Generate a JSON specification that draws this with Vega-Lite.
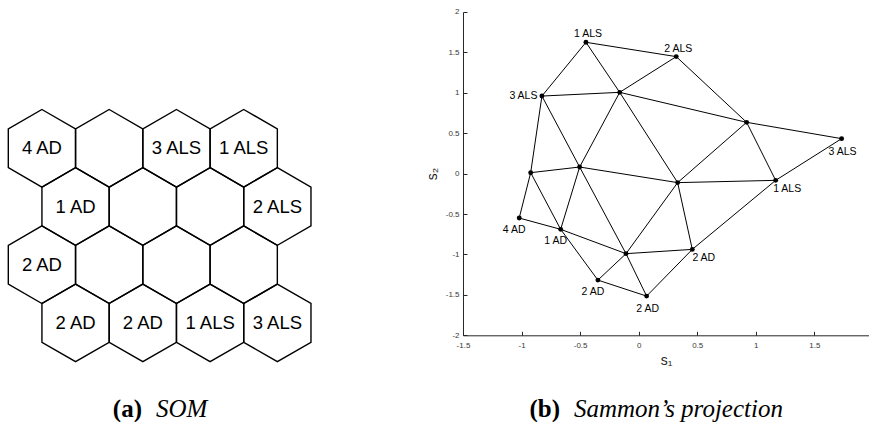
{
  "$schema": "https://vega.github.io/schema/vega-lite/v6.json",
  "background": "white",
  "padding": {"left": 0, "top": 8, "right": 0, "bottom": 0},
  "bounds": "flush",
  "spacing": 152,
  "config": {
    "view": {"stroke": null},
    "axis": {
      "grid": false,
      "labelFont": "Liberation Sans",
      "labelFontSize": 8,
      "labelColor": "#3a3a3a",
      "titleFont": "Liberation Sans",
      "titleFontSize": 14,
      "titleFontWeight": "normal",
      "titleColor": "#262626",
      "domainColor": "#262626",
      "tickColor": "#262626",
      "domainWidth": 1,
      "tickWidth": 1,
      "tickSize": -4,
      "labelFlush": false,
      "labelOverlap": false
    }
  },
  "datasets": {
    "hexes": [
      {"x": 0, "row": 1, "label": "4 AD"},
      {"x": 1, "row": 1, "label": ""},
      {"x": 2, "row": 1, "label": "3 ALS"},
      {"x": 3, "row": 1, "label": "1 ALS"},
      {"x": 0.5, "row": 2, "label": "1 AD"},
      {"x": 1.5, "row": 2, "label": ""},
      {"x": 2.5, "row": 2, "label": ""},
      {"x": 3.5, "row": 2, "label": "2 ALS"},
      {"x": 0, "row": 3, "label": "2 AD"},
      {"x": 1, "row": 3, "label": ""},
      {"x": 2, "row": 3, "label": ""},
      {"x": 3, "row": 3, "label": ""},
      {"x": 0.5, "row": 4, "label": "2 AD"},
      {"x": 1.5, "row": 4, "label": "2 AD"},
      {"x": 2.5, "row": 4, "label": "1 ALS"},
      {"x": 3.5, "row": 4, "label": "3 ALS"}
    ],
    "nodes": [
      {"id": "A", "label": "1 ALS", "x": -0.45, "y": 1.625},
      {"id": "B", "label": "2 ALS", "x": 0.321, "y": 1.448},
      {"id": "C", "label": "3 ALS", "x": -0.826, "y": 0.96},
      {"id": "D", "label": "", "x": -0.162, "y": 1.006},
      {"id": "E", "label": "", "x": 0.922, "y": 0.635},
      {"id": "F", "label": "3 ALS", "x": 1.733, "y": 0.433},
      {"id": "G", "label": "", "x": -0.922, "y": 0.012},
      {"id": "H", "label": "", "x": -0.504, "y": 0.082},
      {"id": "I", "label": "", "x": 0.333, "y": -0.111},
      {"id": "J", "label": "1 ALS", "x": 1.17, "y": -0.083},
      {"id": "K", "label": "4 AD", "x": -1.02, "y": -0.549},
      {"id": "L", "label": "1 AD", "x": -0.666, "y": -0.689},
      {"id": "M", "label": "", "x": -0.108, "y": -0.99},
      {"id": "N", "label": "2 AD", "x": 0.458, "y": -0.937},
      {"id": "O", "label": "2 AD", "x": -0.348, "y": -1.317},
      {"id": "P", "label": "2 AD", "x": 0.068, "y": -1.515}
    ],
    "edges": [
      {"s": "A", "t": "B"}, {"s": "A", "t": "C"}, {"s": "A", "t": "D"},
      {"s": "B", "t": "D"}, {"s": "B", "t": "E"}, {"s": "C", "t": "D"},
      {"s": "C", "t": "G"}, {"s": "C", "t": "H"}, {"s": "D", "t": "H"},
      {"s": "D", "t": "I"}, {"s": "D", "t": "E"}, {"s": "E", "t": "F"},
      {"s": "E", "t": "I"}, {"s": "E", "t": "J"}, {"s": "F", "t": "J"},
      {"s": "G", "t": "H"}, {"s": "H", "t": "I"}, {"s": "I", "t": "J"},
      {"s": "G", "t": "K"}, {"s": "G", "t": "L"}, {"s": "H", "t": "L"},
      {"s": "H", "t": "M"}, {"s": "K", "t": "L"}, {"s": "L", "t": "M"},
      {"s": "L", "t": "O"}, {"s": "M", "t": "O"}, {"s": "M", "t": "P"},
      {"s": "M", "t": "N"}, {"s": "M", "t": "I"}, {"s": "I", "t": "N"},
      {"s": "N", "t": "J"}, {"s": "N", "t": "P"}, {"s": "O", "t": "P"}
    ],
    "captionA": [{"part": "(a)", "name": "SOM"}],
    "captionB": [{"part": "(b)", "name": "Sammon’s projection"}]
  },
  "hconcat": [
    {
      "width": 311,
      "height": 323.3,
      "layer": [
        {
          "data": {"name": "hexes"},
          "mark": {
            "type": "point",
            "shape": "M0,-1L0.866,-0.5L0.866,0.5L0,1L-0.866,0.5L-0.866,-0.5Z",
            "size": 6025,
            "filled": false,
            "stroke": "black",
            "strokeWidth": 1.4,
            "opacity": 1
          },
          "encoding": {
            "x": {"field": "x", "type": "quantitative", "scale": {"domain": [-0.623, 4.0], "zero": false, "nice": false}, "axis": null},
            "y": {"field": "row", "type": "quantitative", "scale": {"domain": [-1.342, 4.213], "zero": false, "nice": false, "reverse": true}, "axis": null}
          }
        },
        {
          "data": {"name": "hexes"},
          "mark": {"type": "text", "font": "Liberation Sans", "fontSize": 18.5, "color": "black", "baseline": "middle"},
          "encoding": {
            "x": {"field": "x", "type": "quantitative"},
            "y": {"field": "row", "type": "quantitative"},
            "text": {"field": "label", "type": "nominal"}
          }
        },
        {
          "data": {"name": "captionA"},
          "mark": {"type": "text", "font": "Liberation Serif", "fontSize": 25, "fontWeight": "bold", "color": "black", "align": "right", "baseline": "alphabetic", "dx": -7},
          "encoding": {
            "x": {"datum": 1.592, "type": "quantitative"},
            "y": {"datum": 5.617, "type": "quantitative"},
            "text": {"field": "part", "type": "nominal"}
          }
        },
        {
          "data": {"name": "captionA"},
          "mark": {"type": "text", "font": "Liberation Serif", "fontSize": 25, "fontStyle": "italic", "color": "black", "align": "left", "baseline": "alphabetic", "dx": 7},
          "encoding": {
            "x": {"datum": 1.592, "type": "quantitative"},
            "y": {"datum": 5.617, "type": "quantitative"},
            "text": {"field": "name", "type": "nominal"}
          }
        }
      ]
    },
    {
      "width": 406,
      "height": 323.3,
      "layer": [
        {
          "data": {"name": "edges"},
          "transform": [
            {"lookup": "s", "from": {"data": {"name": "nodes"}, "key": "id", "fields": ["x", "y"]}},
            {"lookup": "t", "from": {"data": {"name": "nodes"}, "key": "id", "fields": ["x", "y"]}, "as": ["x2", "y2"]}
          ],
          "mark": {"type": "rule", "color": "black", "strokeWidth": 1},
          "encoding": {
            "x": {
              "field": "x", "type": "quantitative",
              "scale": {"domain": [-1.5, 1.967], "zero": false, "nice": false},
              "axis": {
                "title": "s₁",
                "values": [-1.5, -1, -0.5, 0, 0.5, 1, 1.5],
                "labelPadding": 10,
                "titlePadding": 4,
                "labelExpr": "replace(format(datum.value, '~g'), '−', '-')"
              }
            },
            "y": {
              "field": "y", "type": "quantitative",
              "scale": {"domain": [-2, 2], "zero": false, "nice": false},
              "axis": {
                "title": "s₂",
                "values": [-2, -1.5, -1, -0.5, 0, 0.5, 1, 1.5, 2],
                "labelPadding": 8,
                "titlePadding": 6,
                "labelExpr": "replace(format(datum.value, '~g'), '−', '-')"
              }
            },
            "x2": {"field": "x2"},
            "y2": {"field": "y2"}
          }
        },
        {
          "data": {"name": "nodes"},
          "mark": {"type": "point", "filled": true, "color": "black", "size": 24, "opacity": 1},
          "encoding": {
            "x": {"field": "x", "type": "quantitative", "title": "s₁"},
            "y": {"field": "y", "type": "quantitative", "title": "s₂"}
          }
        },
        {
          "data": {"name": "nodes"},
          "transform": [{"filter": "indexof(['A','B'], datum.id) >= 0"}],
          "mark": {"type": "text", "font": "Liberation Sans", "fontSize": 10.5, "color": "black", "baseline": "middle", "dx": 2, "dy": -8},
          "encoding": {
            "x": {"field": "x", "type": "quantitative", "title": "s₁"},
            "y": {"field": "y", "type": "quantitative", "title": "s₂"},
            "text": {"field": "label", "type": "nominal"}
          }
        },
        {
          "data": {"name": "nodes"},
          "transform": [{"filter": "datum.id == 'C'"}],
          "mark": {"type": "text", "font": "Liberation Sans", "fontSize": 10.5, "color": "black", "baseline": "middle", "align": "right", "dx": -4.5},
          "encoding": {
            "x": {"field": "x", "type": "quantitative", "title": "s₁"},
            "y": {"field": "y", "type": "quantitative", "title": "s₂"},
            "text": {"field": "label", "type": "nominal"}
          }
        },
        {
          "data": {"name": "nodes"},
          "transform": [{"filter": "indexof(['F','P'], datum.id) >= 0"}],
          "mark": {"type": "text", "font": "Liberation Sans", "fontSize": 10.5, "color": "black", "baseline": "middle", "dx": 1, "dy": 13},
          "encoding": {
            "x": {"field": "x", "type": "quantitative", "title": "s₁"},
            "y": {"field": "y", "type": "quantitative", "title": "s₂"},
            "text": {"field": "label", "type": "nominal"}
          }
        },
        {
          "data": {"name": "nodes"},
          "transform": [{"filter": "indexof(['K','L','O'], datum.id) >= 0"}],
          "mark": {"type": "text", "font": "Liberation Sans", "fontSize": 10.5, "color": "black", "baseline": "middle", "dx": -5, "dy": 12},
          "encoding": {
            "x": {"field": "x", "type": "quantitative", "title": "s₁"},
            "y": {"field": "y", "type": "quantitative", "title": "s₂"},
            "text": {"field": "label", "type": "nominal"}
          }
        },
        {
          "data": {"name": "nodes"},
          "transform": [{"filter": "indexof(['N','J'], datum.id) >= 0"}],
          "mark": {"type": "text", "font": "Liberation Sans", "fontSize": 10.5, "color": "black", "baseline": "middle", "dx": 11.5, "dy": 9},
          "encoding": {
            "x": {"field": "x", "type": "quantitative", "title": "s₁"},
            "y": {"field": "y", "type": "quantitative", "title": "s₂"},
            "text": {"field": "label", "type": "nominal"}
          }
        },
        {
          "data": {"name": "captionB"},
          "mark": {"type": "text", "font": "Liberation Serif", "fontSize": 25, "fontWeight": "bold", "color": "black", "align": "right", "baseline": "alphabetic", "dx": -7},
          "encoding": {
            "x": {"datum": -0.612, "type": "quantitative"},
            "y": {"datum": -3.012, "type": "quantitative"},
            "text": {"field": "part", "type": "nominal"}
          }
        },
        {
          "data": {"name": "captionB"},
          "mark": {"type": "text", "font": "Liberation Serif", "fontSize": 25, "fontStyle": "italic", "color": "black", "align": "left", "baseline": "alphabetic", "dx": 7},
          "encoding": {
            "x": {"datum": -0.612, "type": "quantitative"},
            "y": {"datum": -3.012, "type": "quantitative"},
            "text": {"field": "name", "type": "nominal"}
          }
        }
      ]
    }
  ]
}
